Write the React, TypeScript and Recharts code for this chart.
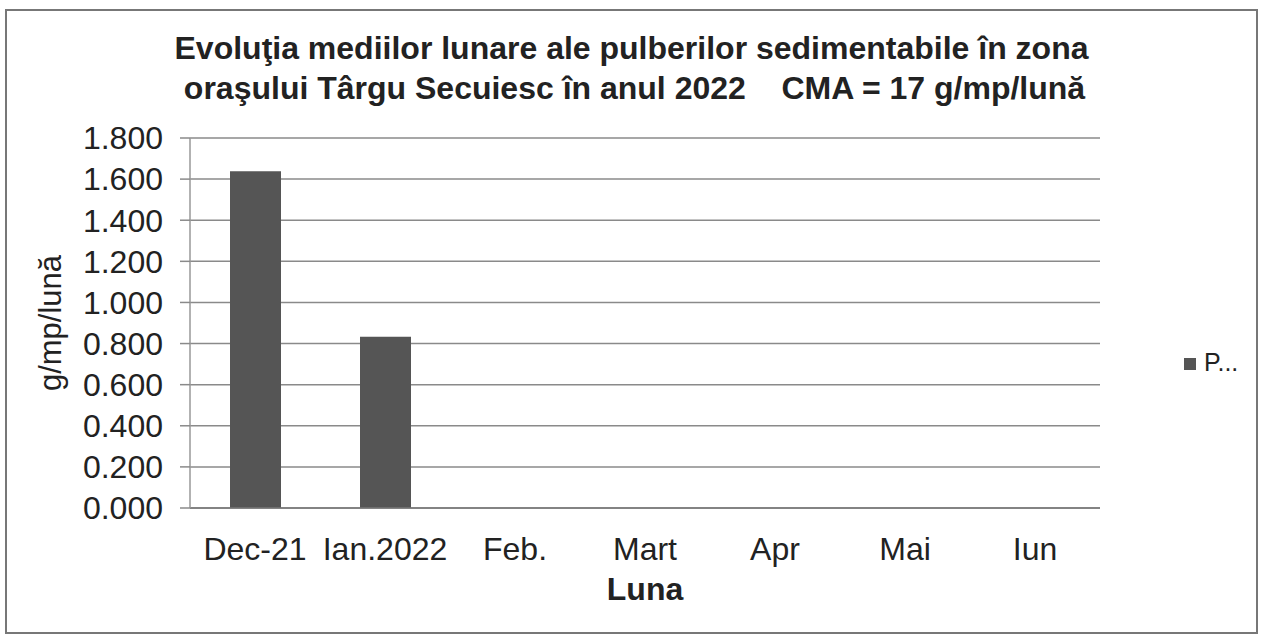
import React from 'react';
import { BarChart, Bar, XAxis, YAxis, CartesianGrid } from 'recharts';

const categories = ['Dec-21', 'Ian.2022', 'Feb.', 'Mart', 'Apr', 'Mai', 'Iun'];
const seriesValues: (number | null)[] = [1.638, 0.833, null, null, null, null, null];
const yTicks = [0, 0.2, 0.4, 0.6, 0.8, 1.0, 1.2, 1.4, 1.6, 1.8];
const seriesName = 'P...';
const titleLine1 = 'Evoluţia mediilor lunare ale pulberilor sedimentabile în zona';
const titleLine2 = 'oraşului Târgu Secuiesc în anul 2022    CMA = 17 g/mp/lună';
const yLabel = 'g/mp/lună';
const xLabel = 'Luna';
const barColor = '#555555';

const data = categories.map((c, i) => ({ name: c, v: seriesValues[i] }));

const FONT = '"Liberation Sans", Arial, sans-serif';

export default function App() {
  return (
    <div style={{ position: 'absolute', left: 0, top: 0, width: 1261, height: 636, background: '#fff', fontFamily: FONT }}>
      <div style={{ position: 'absolute', left: 5, top: 9, width: 1249, height: 621, border: '2px solid #777' }} />
      <div style={{ position: 'absolute', left: 0, width: 1261, top: 28, textAlign: 'center', fontWeight: 'bold', fontSize: 32, lineHeight: '40px', color: '#222', whiteSpace: 'pre' }}>
        <div style={{ marginLeft: 2 }}>{titleLine1}</div>
        <div style={{ marginLeft: 8 }}>{titleLine2}</div>
      </div>
      <div style={{ position: 'absolute', left: 0, top: 0 }}>
        <BarChart width={1261} height={636} data={data} margin={{ top: 138, right: 161, bottom: 28, left: 0 }}>
          <CartesianGrid vertical={false} stroke="#8a8a8a" strokeWidth={1.5} />
          <XAxis
            dataKey="name"
            height={100}
            tickSize={0}
            tickMargin={29}
            axisLine={{ stroke: '#777', strokeWidth: 1.5 }}
            tick={{ fill: '#222', fontSize: 32, fontFamily: FONT }}
            interval={0}
            label={{ value: xLabel, position: 'insideBottom', offset: 8, fill: '#222', fontSize: 32, fontWeight: 'bold', fontFamily: FONT }}
          />
          <YAxis
            width={190}
            domain={[0, 1.8]}
            ticks={yTicks}
            interval={0}
            tickFormatter={(v: number) => v.toFixed(3)}
            tickSize={10}
            tickMargin={17}
            axisLine={{ stroke: '#999', strokeWidth: 1.5 }}
            tickLine={{ stroke: '#8a8a8a', strokeWidth: 1.5 }}
            tick={{ fill: '#222', fontSize: 32, fontFamily: FONT }}
            label={{ value: yLabel, angle: -90, position: 'insideLeft', offset: 50, fill: '#222', fontSize: 31, fontFamily: FONT, style: { textAnchor: 'middle' } }}
          />
          <Bar dataKey="v" name={seriesName} fill={barColor} barSize={51} isAnimationActive={false} />
        </BarChart>
      </div>
      <svg style={{ position: 'absolute', left: 0, top: 0 }} width={1261} height={636}>
        <rect x={1184} y={358} width={12} height={12} fill={barColor} />
        <text x={1204} y={371} fontSize={25} fontFamily={FONT} fill="#222">{seriesName}</text>
      </svg>
    </div>
  );
}
